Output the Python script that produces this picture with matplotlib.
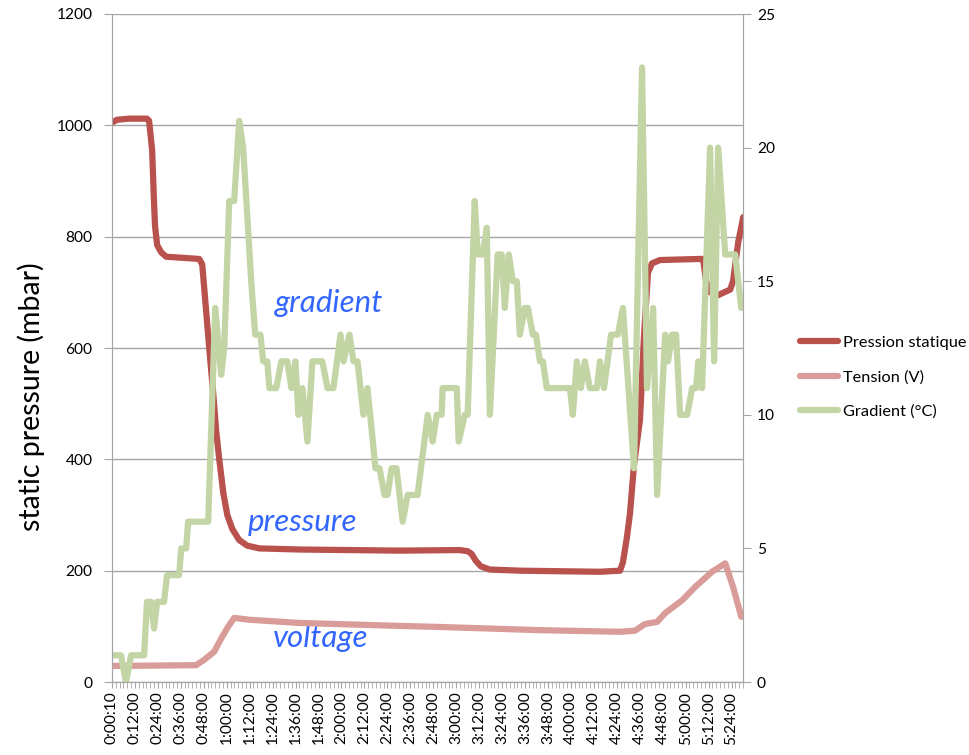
import matplotlib
matplotlib.use("Agg")
import matplotlib.pyplot as plt
from matplotlib.ticker import MultipleLocator

plt.rcParams['font.family'] = ['Lato', 'DejaVu Sans']

# ---- data (time in minutes since first sample, category axis every 2 min) ----
tick_labels = ["0:00:10", "0:12:00", "0:24:00", "0:36:00", "0:48:00", "1:00:00",
               "1:12:00", "1:24:00", "1:36:00", "1:48:00", "2:00:00", "2:12:00",
               "2:24:00", "2:36:00", "2:48:00", "3:00:00", "3:12:00", "3:24:00",
               "3:36:00", "3:48:00", "4:00:00", "4:12:00", "4:24:00", "4:36:00",
               "4:48:00", "5:00:00", "5:12:00", "5:24:00"]

# Pression statique (mbar), left axis
p_time = [0, 2.6, 8.9, 18.3, 19.4, 21.0, 22.0, 22.5, 23.6, 25.7, 28.3, 45.6,
          47.2, 50.8, 52.9, 54.5, 56.1, 58.2, 60.3, 62.9, 66.5, 70.7, 77.0,
          98.0, 124.2, 150.4, 181.8, 186.0, 188.1, 190.2, 192.8, 197.6, 213.3,
          234.2, 255.2, 265.7, 267.2, 269.3, 270.9, 273.0, 276.1, 278.2, 280.3,
          282.4, 286.6, 307.6, 309.1, 310.7, 312.8, 317.0, 323.3, 324.8, 327.5,
          330.1]
pressure = [1005, 1010, 1012, 1012, 1008, 955, 860, 820, 785, 772, 764, 760,
            750, 602, 520, 450, 400, 340, 300, 275, 255, 245, 240,
            238, 237, 236, 237, 235, 230, 218, 208, 202, 200,
            199, 198, 200, 215, 260, 303, 390, 470, 620, 735,
            752, 758, 760, 760, 720, 700, 695, 705, 720, 790,
            835]

# Tension (V), right axis
v_time = [0, 44.0, 48.2, 53.4, 57.6, 60.8, 63.9, 71.8, 98.0, 150.4, 171.3,
          223.8, 265.7, 273.5, 278.7, 285.1, 289.3, 298.2, 305.0, 313.9, 320.7,
          324.8, 329.1]
tension = [0.60, 0.63, 0.83, 1.13, 1.69, 2.08, 2.40, 2.33, 2.21, 2.10, 2.06,
           1.94, 1.88, 1.92, 2.17, 2.25, 2.58, 3.06, 3.56, 4.13, 4.44,
           3.56, 2.44]

# Gradient (°C), right axis
g_time = [0, 4.7, 7.3, 10.0, 16.8, 18.3, 20.4, 22.0, 23.6, 27.2, 28.8, 35.1,
          36.2, 38.8, 39.8, 50.3, 54.0, 57.1, 58.7, 61.3, 63.9, 66.5, 68.6,
          72.8, 74.9, 77.6, 79.1, 81.2, 82.3, 85.9, 88.6, 91.7, 93.8, 95.9,
          97.5, 99.6, 102.2, 104.8, 110.0, 112.7, 115.8, 119.5, 121.1, 124.2,
          126.3, 128.4, 131.5, 133.6, 137.8, 139.9, 142.5, 144.1, 146.2, 148.8,
          152.0, 154.6, 159.8, 165.1, 167.7, 169.8, 172.4, 172.9, 180.3, 181.3,
          184.5, 186.0, 189.7, 191.3, 193.9, 196.0, 197.6, 201.7, 203.8, 205.4,
          207.5, 209.6, 211.7, 213.3, 215.9, 217.5, 220.1, 221.7, 223.8, 225.3,
          227.4, 239.5, 241.0, 243.1, 245.2, 247.3, 249.9, 253.6, 255.2, 257.3,
          261.0, 264.6, 267.2, 273.0, 277.2, 279.8, 283.0, 285.1, 289.3, 290.8,
          292.9, 295.0, 297.1, 300.8, 303.4, 305.5, 306.6, 308.6, 312.8, 314.9,
          317.0, 320.7, 325.9, 329.1]
gradient = [1, 1, 0, 1, 1, 3, 3, 2, 3, 3, 4, 4,
            5, 5, 6, 6, 14, 11.5, 12.5, 18, 18, 21, 20,
            15, 13, 13, 12, 12, 11, 11, 12, 12, 11, 12,
            10, 11, 9, 12, 12, 11, 11, 13, 12, 13,
            12, 12, 10, 11, 8, 8, 7, 7, 8, 8,
            6, 7, 7, 10, 9, 10, 10, 11, 11, 9,
            10, 10, 18, 16, 16, 17, 10, 16, 16, 14,
            16, 15, 15, 13, 14, 14, 13, 13, 12, 12,
            11, 11, 10, 12, 11, 12, 11, 11, 12, 11,
            13, 13, 14, 8, 23, 11, 14, 7, 13, 12,
            13, 13, 10, 10, 11, 11, 12, 11, 20, 12,
            20, 16, 16, 14]

# ---- colours ----
c_press = '#B9514D'
c_tens = '#D99C99'
c_grad = '#C3D5A4'
c_grid = '#A6A6A6'
c_note = '#3366FF'

fig = plt.figure(figsize=(9.69, 7.55), dpi=100)
ax = fig.add_axes([112/969, 1-682/755, (743-112)/969, (682-14)/755])
ax2 = ax.twinx()

ax.plot(p_time, pressure, color=c_press, lw=4.5, solid_capstyle='round',
        solid_joinstyle='round', label='Pression statique', zorder=3)
ax2.plot(v_time, tension, color=c_tens, lw=4.5, solid_capstyle='round',
         solid_joinstyle='round', label='Tension (V)')
ax2.plot(g_time, gradient, color=c_grad, lw=4.5, solid_capstyle='round',
         solid_joinstyle='round', label='Gradient (°C)')

ax.set_xlim(0, 330)
ax.set_ylim(0, 1200)
ax2.set_ylim(0, 25)
ax.set_yticks(range(0, 1201, 200))
ax2.set_yticks(range(0, 26, 5))
ax.set_xticks([12*i for i in range(len(tick_labels))])
ax.set_xticklabels(tick_labels, rotation=90)
ax.xaxis.set_minor_locator(MultipleLocator(2))

ax.grid(axis='y', color=c_grid, lw=1)
ax.set_axisbelow(True)
for a in (ax, ax2):
    for s in a.spines.values():
        s.set_color(c_grid)
    a.spines['top'].set_visible(False)
ax.tick_params(axis='x', which='both', length=4, color=c_grid, labelsize=11.2, pad=3)
ax.tick_params(axis='y', length=6, color=c_grid, labelsize=11.2, pad=8)
ax2.tick_params(axis='y', length=6, color=c_grid, labelsize=11.2, pad=4)

# y label sits a bit below the axis centre in the original
fig.text(31/969, 1-397/755, 'static pressure (mbar)', rotation=90,
         fontsize=20.5, ha='center', va='center')

# annotations
ax.text(85, 680, 'gradient', style='italic', color=c_note, fontsize=22.5, va='center')
ax.text(71, 287, 'pressure', style='italic', color=c_note, fontsize=22.5, va='center')
ax.text(84, 79, 'voltage', style='italic', color=c_note, fontsize=22.5, va='center')

h1, l1 = ax.get_legend_handles_labels()
h2, l2 = ax2.get_legend_handles_labels()
fig.legend(h1 + h2, l1 + l2, loc='center left', bbox_to_anchor=(800/969, 1-377/755),
           frameon=False, fontsize=11.8, handlelength=2.3, handletextpad=0.3,
           labelspacing=1.2, borderpad=0, borderaxespad=0)

fig.savefig('out.png', dpi=100)
